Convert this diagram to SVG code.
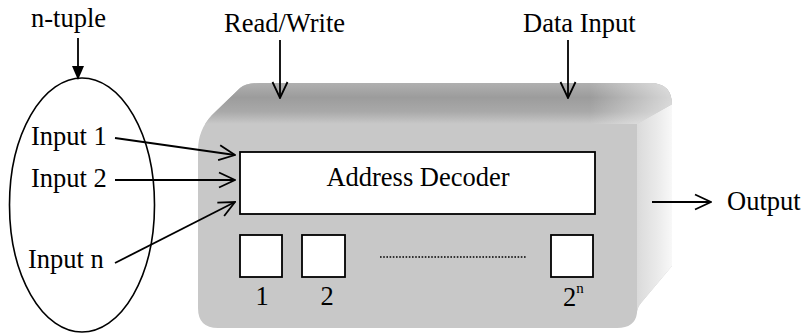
<svg xmlns="http://www.w3.org/2000/svg" width="804" height="336" viewBox="0 0 804 336">
  <style>
    text { font-family: "Liberation Serif", "Times New Roman", serif; font-size: 26.5px; fill: #000; }
    .box { fill: #fff; stroke: #000; stroke-width: 1.8; }
    .wire { fill: none; stroke: #000; stroke-width: 1.8; }
  </style>
  <defs>
    <!-- open V arrowhead -->
    <marker id="vhead" viewBox="0 0 18 18" refX="17" refY="9" markerWidth="18" markerHeight="18" markerUnits="userSpaceOnUse" orient="auto">
      <path d="M1,1.5 L17,9 L1,16.5" fill="none" stroke="#000" stroke-width="1.8"/>
    </marker>
    <!-- solid triangular arrowhead -->
    <marker id="solidhead" viewBox="0 0 14 12" refX="13" refY="6" markerWidth="14" markerHeight="12" markerUnits="userSpaceOnUse" orient="auto">
      <path d="M0,0 L14,6 L0,12 Z" fill="#000"/>
    </marker>
    <linearGradient id="topShade" x1="0" y1="83" x2="0" y2="124" gradientUnits="userSpaceOnUse">
      <stop offset="0" stop-color="#b0b0b0"/>
      <stop offset="0.35" stop-color="#9c9c9c"/>
      <stop offset="0.7" stop-color="#a9a9a9"/>
      <stop offset="1" stop-color="#c8c8c8"/>
    </linearGradient>
    <linearGradient id="topFade" x1="590" y1="0" x2="672" y2="0" gradientUnits="userSpaceOnUse">
      <stop offset="0" stop-color="#fff" stop-opacity="0"/>
      <stop offset="1" stop-color="#fff" stop-opacity="0.6"/>
    </linearGradient>
    <linearGradient id="sideShade" x1="637" y1="0" x2="674" y2="0" gradientUnits="userSpaceOnUse">
      <stop offset="0" stop-color="#dadada"/>
      <stop offset="0.6" stop-color="#ececec"/>
      <stop offset="1" stop-color="#fafafa"/>
    </linearGradient>
    <!-- outline of the whole memory block (front, top and side) -->
    <clipPath id="blockOutline">
      <path id="outlinePath" d="M198,150 Q198,130 212,115 L240,88 Q246,83 260,83 L650,83 Q672,83 672,105 L672,266 L641,303 Q637,308 637,313 Q635,328 617,328 L218,328 Q198,328 198,308 Z"/>
    </clipPath>
  </defs>

  <!-- RAM block drawn as a shaded 3D box -->
  <g id="ram-block">
    <g clip-path="url(#blockOutline)">
      <!-- front face -->
      <rect x="190" y="80" width="490" height="260" fill="#c8c8c8"/>
      <!-- side face -->
      <path d="M637,122 L676,92 L676,330 L637,330 Z" fill="url(#sideShade)"/>
      <!-- top face -->
      <path d="M190,80 L690,80 L690,94 L637,124 L190,124 Z" fill="url(#topShade)"/>
      <path d="M190,80 L690,80 L690,94 L637,124 L190,124 Z" fill="url(#topFade)"/>
    </g>
  </g>

  <g id="address-decoder">
    <rect class="box" x="240" y="152" width="355" height="62"/>
    <text x="418" y="186" text-anchor="middle">Address Decoder</text>
  </g>

  <g id="location-1">
    <rect class="box" x="240" y="235" width="42" height="42"/>
    <text x="262" y="305" text-anchor="middle">1</text>
  </g>
  <g id="location-2">
    <rect class="box" x="302" y="235" width="43" height="42"/>
    <text x="327" y="305" text-anchor="middle">2</text>
  </g>
  <g id="location-2n">
    <rect class="box" x="551" y="235" width="42" height="42"/>
    <text x="563" y="306">2<tspan font-size="15" dy="-13">n</tspan></text>
  </g>

  <g id="n-tuple">
    <ellipse cx="82" cy="205" rx="72.5" ry="127" fill="none" stroke="#000" stroke-width="1.6"/>
    <text x="31" y="27">n-tuple</text>
    <text x="31" y="145">Input 1</text>
    <text x="31" y="187">Input 2</text>
    <text x="28" y="268">Input n</text>
  </g>

  <g id="labels">
    <text x="224" y="32">Read/Write</text>
    <text x="523" y="32">Data Input</text>
    <text x="727" y="210">Output</text>
  </g>

  <g id="connectors">
    <line class="wire" x1="78" y1="38" x2="78" y2="79" marker-end="url(#solidhead)"/>
    <line class="wire" x1="280" y1="40" x2="280" y2="98" marker-end="url(#vhead)"/>
    <line class="wire" x1="568" y1="40" x2="568" y2="98" marker-end="url(#vhead)"/>
    <line class="wire" x1="115" y1="138" x2="235" y2="155" marker-end="url(#vhead)"/>
    <line class="wire" x1="115" y1="180" x2="235" y2="180" marker-end="url(#vhead)"/>
    <line class="wire" x1="115" y1="263" x2="235" y2="202" marker-end="url(#vhead)"/>
    <line class="wire" x1="652" y1="202" x2="711" y2="202" marker-end="url(#vhead)"/>
    <line x1="380" y1="257" x2="527" y2="257" stroke="#000" stroke-width="1.6" stroke-dasharray="1.6 1.6"/>
  </g>
</svg>
